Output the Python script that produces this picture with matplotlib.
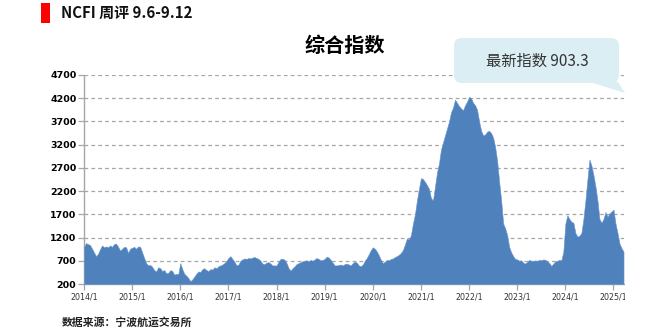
import numpy as np
import matplotlib

matplotlib.use("Agg")
import matplotlib.pyplot as plt
from matplotlib.patches import FancyBboxPatch, Polygon, Rectangle

plt.rcParams["font.family"] = ["Noto Sans CJK SC", "DejaVu Sans"]

# NCFI composite index (about two points per month)
idx_2014 = [1000, 1080, 1060, 1040, 960, 880, 800, 850, 950, 1030, 990, 1010,
            990, 1030, 1000, 1060, 1070, 1000, 920, 960, 1000, 990, 870, 960]
idx_2015 = [980, 1000, 960, 1010, 1000, 880, 760, 650, 600, 610, 570, 500,
            470, 560, 540, 480, 500, 430, 440, 500, 480, 400, 420, 410]
idx_2016 = [650, 520, 420, 380, 330, 260, 300, 360, 420, 470, 460, 520,
            540, 500, 480, 520, 510, 560, 540, 580, 600, 620, 650, 700]
idx_2017 = [760, 800, 740, 680, 600, 620, 700, 730, 750, 740, 760, 750,
            770, 780, 760, 740, 700, 640, 630, 660, 670, 640, 600, 600]
idx_2018 = [600, 680, 740, 745, 720, 650, 540, 490, 540, 580, 630, 650,
            670, 690, 700, 710, 690, 720, 700, 730, 760, 740, 710, 720]
idx_2019 = [740, 790, 770, 720, 660, 600, 600, 610, 620, 600, 630, 640,
            620, 600, 650, 680, 660, 600, 580, 620, 700, 760, 840, 930]
idx_2020 = [990, 960, 900, 820, 720, 650, 680, 720, 710, 740, 750, 780,
            800, 830, 870, 930, 1050, 1180, 1160, 1250, 1500, 1700, 2000, 2250]
idx_2021 = [2480, 2460, 2400, 2330, 2250, 2050, 2000, 2300, 2600, 2800, 3100, 3250,
            3400, 3550, 3700, 3900, 4000, 4170, 4100, 4030, 3980, 3940, 4050, 4130]
idx_2022 = [4230, 4200, 4100, 4050, 3950, 3700, 3500, 3400, 3420, 3480, 3500, 3450,
            3350, 3150, 2850, 2400, 2000, 1500, 1400, 1250, 1000, 880, 800, 740]
idx_2023 = [730, 700, 710, 660, 640, 680, 720, 700, 690, 710, 700, 720,
            710, 730, 720, 690, 650, 590, 640, 690, 700, 720, 710, 900]
idx_2024 = [1500, 1680, 1600, 1540, 1520, 1300, 1220, 1240, 1300, 1600, 2000, 2450,
            2880, 2750, 2550, 2300, 2000, 1600, 1520, 1600, 1750, 1650, 1720, 1760]
idx_2025 = [1800, 1500, 1300, 1070, 970, 900]

years = list(range(2014, 2026))
series = [idx_2014, idx_2015, idx_2016, idx_2017, idx_2018, idx_2019,
          idx_2020, idx_2021, idx_2022, idx_2023, idx_2024, idx_2025]

y_ticks = [200, 700, 1200, 1700, 2200, 2700, 3200, 3700, 4200, 4700]
x_labels = [f"{y}/1" for y in years]

title = "综合指数"
header = "NCFI 周评 9.6-9.12"
latest = "最新指数 903.3"
source = "数据来源：宁波航运交易所"

W, H = 670, 330


def fx(x):
    return x / W


def fy(y):
    return 1 - y / H


def main() -> int:
    x = np.concatenate([y + np.arange(len(v)) / 24 for y, v in zip(years, series)])
    v = np.concatenate([np.array(s, dtype=float) for s in series])

    fig = plt.figure(figsize=(W / 100, H / 100), dpi=100)
    fig.patch.set_facecolor("white")
    ax = fig.add_axes([fx(84), fy(284), (624 - 84) / W, (284 - 75) / H])

    ax.fill_between(x, v, 200, color="#4F81BD", linewidth=0.4, edgecolor="#6A96CC", zorder=3)

    ax.set_xlim(2014, x[-1] + 0.01)
    ax.set_ylim(200, 4700)
    ax.set_yticks(y_ticks)
    ax.set_yticklabels([str(t) for t in y_ticks], family="DejaVu Sans",
                       fontsize=6.8, fontweight="bold", color="black")
    ax.set_xticks(years)
    ax.set_xticklabels(x_labels, family="DejaVu Sans", fontsize=5.7, color="#333333")

    ax.yaxis.grid(True, color="#A6A6A6", linestyle=(0, (3, 2.5)), linewidth=0.9, zorder=1)
    ax.set_axisbelow(True)
    ax.tick_params(axis="y", length=4, width=0.9, color="#A6A6A6", pad=1.5)
    ax.tick_params(axis="x", length=4, width=0.9, color="#A6A6A6", pad=2.2)
    for side in ("top", "right"):
        ax.spines[side].set_visible(False)
    for side in ("left", "bottom"):
        ax.spines[side].set_color("#A6A6A6")
        ax.spines[side].set_linewidth(1.0)

    # header block
    fig.add_artist(Rectangle((fx(41), fy(23)), 9 / W, 20 / H,
                             transform=fig.transFigure, color="#FF0000", lw=0))
    fig.text(fx(61), fy(13), header, fontsize=10.8, fontweight="bold",
             ha="left", va="center", color="#111111")

    fig.text(fx(345), fy(45), title, fontsize=14.5, fontweight="bold",
             ha="center", va="center", color="black")

    # callout bubble (inch coordinates so corners stay round)
    tr = fig.dpi_scale_trans
    bx0, bx1, by0, by1 = 454, 619, 38, 83
    bubble = FancyBboxPatch((bx0 / 100, (H - by1) / 100), (bx1 - bx0) / 100, (by1 - by0) / 100,
                            boxstyle="round,pad=0,rounding_size=0.08",
                            transform=tr, facecolor="#DAEEF3", edgecolor="none", zorder=20)
    fig.add_artist(bubble)
    tail = Polygon([(590 / 100, (H - 82) / 100), (618 / 100, (H - 82) / 100),
                    (625 / 100, (H - 93) / 100)],
                   closed=True, transform=tr, facecolor="#DAEEF3", edgecolor="none", zorder=20)
    fig.add_artist(tail)
    fig.text(fx(537), fy(61), latest, fontsize=11, ha="center", va="center",
             color="#333333", zorder=21)

    fig.text(fx(62), fy(322), source, fontsize=7.8, fontweight="bold",
             ha="left", va="center", color="#222222")

    # the reference is cut off on the right
    fig.add_artist(Rectangle((625 / 100, 0), (W - 625) / 100, H / 100,
                             transform=tr, color="white", lw=0, zorder=50))

    fig.savefig("out.png", dpi=100)
    plt.close(fig)
    return 0


if __name__ == "__main__":
    raise SystemExit(main())
